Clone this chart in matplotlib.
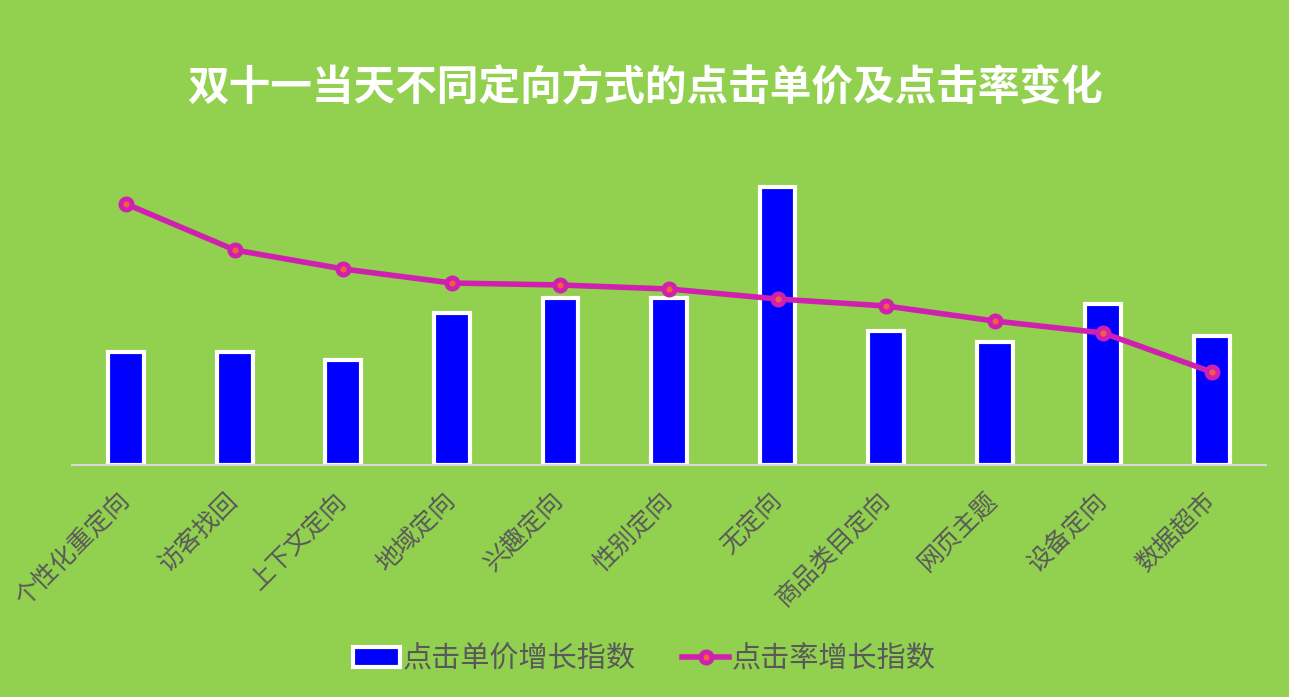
import matplotlib.pyplot as plt
import matplotlib.transforms as mtransforms
import numpy as np

plt.rcParams['font.family'] = ['Noto Sans CJK SC', 'DejaVu Sans']

categories = ['个性化重定向', '访客找回', '上下文定向', '地域定向', '兴趣定向', '性别定向',
              '无定向', '商品类目定向', '网页主题', '设备定向', '数据超市']
price_index = [113, 113, 105, 152, 167, 167, 278, 134, 123, 161, 129]
ctr_index = [261, 215, 196, 182, 180, 176, 166, 159, 144, 132, 93]

bg = '#92D050'
fig = plt.figure(figsize=(12.89, 6.97), dpi=100, facecolor=bg)
ax = fig.add_axes([72 / 1289, 1 - 465 / 697, (1266 - 72) / 1289, 315 / 697])
ax.set_facecolor(bg)

x = np.arange(len(categories))
bars = ax.bar(x, price_index, width=0.33, color='#0000FF', edgecolor='white', linewidth=3,
              label='点击单价增长指数', zorder=2)
line, = ax.plot(x, ctr_index, color='#D020B0', linewidth=4, marker='o', markersize=8,
                markerfacecolor='#F06040', markeredgecolor='#D020B0', markeredgewidth=3.5,
                label='点击率增长指数', zorder=3)

ax.set_xlim(-0.5, len(categories) - 0.5)
ax.set_ylim(0, 315)
ax.set_yticks([])
for s in ['top', 'right', 'left']:
    ax.spines[s].set_visible(False)
ax.spines['bottom'].set_color('#D9D9D9')
ax.spines['bottom'].set_linewidth(1.5)
ax.set_xticks(x)
ax.set_xticklabels(categories, rotation=45, ha='right', rotation_mode='anchor',
                   fontsize=18, color='#595959')
ax.tick_params(axis='x', length=0, pad=16)
# nudge labels a bit to the left
shift = mtransforms.ScaledTranslation(-7 / 72, 0, fig.dpi_scale_trans)
for lbl in ax.get_xticklabels():
    lbl.set_transform(lbl.get_transform() + shift)

fig.text(0.5, 1 - 87 / 697, '双十一当天不同定向方式的点击单价及点击率变化', ha='center', va='center',
         fontsize=30, fontweight='bold', color='white')

leg = fig.legend([bars, line], ['点击单价增长指数', '点击率增长指数'], loc='center',
                 bbox_to_anchor=(0.5, 1 - 659 / 697), ncol=2, frameon=False,
                 fontsize=21, handlelength=1.6, columnspacing=1.6, handletextpad=0.1)
for t in leg.get_texts():
    t.set_color('#595959')

fig.savefig('out.png', dpi=100, facecolor=bg)
